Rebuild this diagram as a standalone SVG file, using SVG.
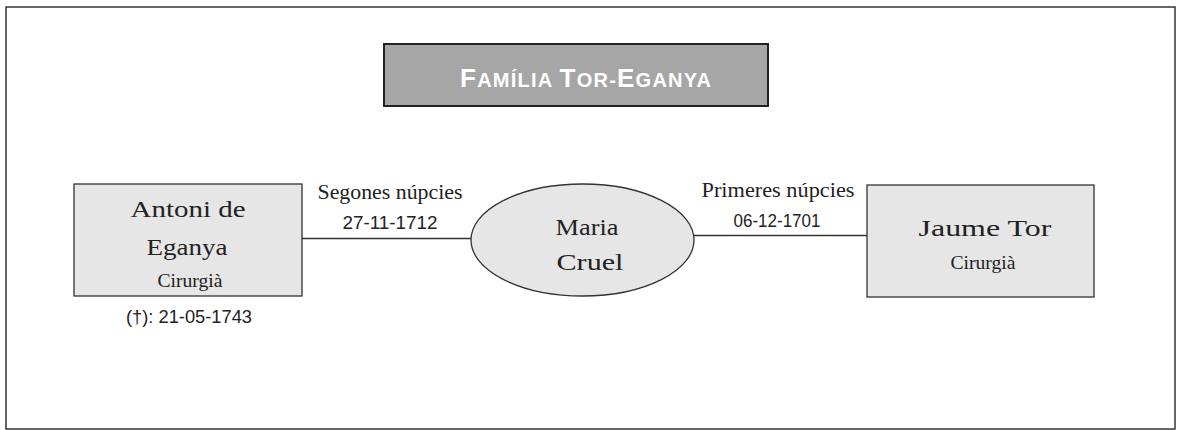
<svg xmlns="http://www.w3.org/2000/svg" width="1177" height="430" viewBox="0 0 1177 430">
<style>
.node{fill:#e6e6e6;stroke:#333;stroke-width:1.3}
.conn{stroke:#333;stroke-width:1.3;fill:none}
.name{font-family:"Liberation Serif","Times New Roman",serif;font-size:23px;fill:#222;text-anchor:middle}
.sub{font-family:"Liberation Serif","Times New Roman",serif;font-size:19px;fill:#222;text-anchor:middle}
.lbl{font-family:"Liberation Serif","Times New Roman",serif;font-size:20px;fill:#222;text-anchor:middle}
.date{font-family:"Liberation Sans",Arial,sans-serif;font-size:18px;fill:#222;text-anchor:middle}
.title{font-family:"Liberation Sans",Arial,sans-serif;font-weight:bold;fill:#fff;text-anchor:middle;letter-spacing:1px}
</style>
<rect x="0" y="0" width="1177" height="430" fill="#fff"/>
<rect x="6" y="7" width="1169" height="422" fill="none" stroke="#333" stroke-width="1.5"/>
<g id="title">
<rect x="384" y="44" width="384" height="62" fill="#a6a6a6" stroke="#222" stroke-width="2"/>
<text class="title" x="586" y="87" textLength="252"><tspan font-size="26">F</tspan><tspan font-size="20">AMÍLIA </tspan><tspan font-size="26">T</tspan><tspan font-size="20">OR-</tspan><tspan font-size="26">E</tspan><tspan font-size="20">GANYA</tspan></text>
</g>
<g id="connectors">
<line class="conn" x1="302" y1="238.5" x2="471" y2="238.5"/>
<line class="conn" x1="694" y1="235.5" x2="867" y2="235.5"/>
<text class="lbl" x="390" y="199" textLength="145" lengthAdjust="spacingAndGlyphs">Segones núpcies</text>
<text class="date" x="390" y="229" textLength="95" lengthAdjust="spacingAndGlyphs">27-11-1712</text>
<text class="lbl" x="778" y="197" textLength="153" lengthAdjust="spacingAndGlyphs">Primeres núpcies</text>
<text class="date" x="777" y="227" textLength="87" lengthAdjust="spacingAndGlyphs">06-12-1701</text>
</g>
<g id="antoni">
<rect class="node" x="74" y="184" width="228" height="112"/>
<text class="name" x="188" y="217" textLength="115" lengthAdjust="spacingAndGlyphs">Antoni de</text>
<text class="name" x="187" y="255" textLength="81" lengthAdjust="spacingAndGlyphs">Eganya</text>
<text class="sub" x="190" y="287" textLength="65" lengthAdjust="spacingAndGlyphs">Cirurgià</text>
<text class="date" x="189" y="323" textLength="126" lengthAdjust="spacingAndGlyphs">(†): 21-05-1743</text>
</g>
<g id="maria">
<ellipse class="node" cx="582.5" cy="240" rx="111.5" ry="56"/>
<text class="name" x="587" y="235" textLength="63" lengthAdjust="spacingAndGlyphs">Maria</text>
<text class="name" x="590" y="270" textLength="67" lengthAdjust="spacingAndGlyphs">Cruel</text>
</g>
<g id="jaume">
<rect class="node" x="867" y="185" width="227" height="112"/>
<text class="name" x="985" y="236" textLength="133" lengthAdjust="spacingAndGlyphs">Jaume Tor</text>
<text class="sub" x="983" y="269" textLength="65" lengthAdjust="spacingAndGlyphs">Cirurgià</text>
</g>
</svg>
